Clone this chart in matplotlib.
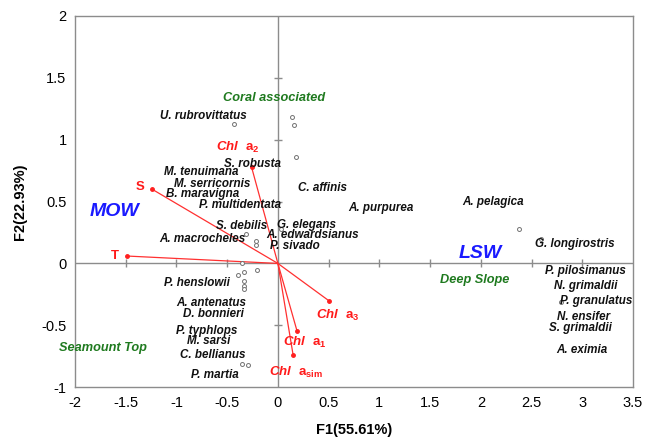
import numpy as np
import matplotlib
matplotlib.use("Agg")
import matplotlib.pyplot as plt

plt.rcParams.update({
    "font.family": ["Liberation Sans", "DejaVu Sans"],
    "mathtext.fontset": "custom",
    "mathtext.rm": "Liberation Sans:bold",
    "mathtext.it": "Liberation Sans:italic:bold",
    "mathtext.bf": "Liberation Sans:bold",
})

# PCA site/species scores (F1, F2)
pt_x = [-0.43, 0.14, 0.16, 0.18, -0.31, -0.22, -0.22, 0.03,
        -0.35, -0.21, -0.39, -0.33, -0.33, -0.33, -0.33,
        -0.35, -0.29, 2.38, 2.59, 2.79]
pt_y = [1.13, 1.18, 1.12, 0.86, 0.24, 0.18, 0.15, 0.28,
        0.00, -0.05, -0.09, -0.07, -0.14, -0.18, -0.21,
        -0.81, -0.82, 0.28, 0.20, -0.31]

# environmental vectors
vec_names = ["S", "T", "Chl a2", "Chl a3", "Chl a1", "Chl asim"]
vec_x = [-1.24, -1.49, -0.26, 0.50, 0.19, 0.15]
vec_y = [0.60, 0.06, 0.78, -0.30, -0.55, -0.74]
vec_labels = ["S", "T",
              r"$\mathit{Chl}\ \ \mathrm{a}_{\mathrm{2}}$",
              r"$\mathit{Chl}\ \ \mathrm{a}_{\mathrm{3}}$",
              r"$\mathit{Chl}\ \ \mathrm{a}_{\mathrm{1}}$",
              r"$\mathit{Chl}\ \ \mathrm{a}_{\mathrm{sim}}$"]
vec_lab_pos = [(-1.36, 0.62), (-1.61, 0.06), (-0.40, 0.94),
               (0.59, -0.42), (0.27, -0.64), (0.18, -0.88)]

species = ["U. rubrovittatus", "S. robusta", "M. tenuimana", "M. serricornis",
           "B. maravigna", "P. multidentata", "C. affinis", "A. purpurea",
           "A. pelagica", "S. debilis", "G. elegans", "A. edwardsianus",
           "A. macrocheles", "P. sivado", "G. longirostris", "P. henslowii",
           "P. pilosimanus", "N. grimaldii", "P. granulatus", "N. ensifer",
           "S. grimaldii", "A. eximia", "A. antenatus", "D. bonnieri",
           "P. typhlops", "M. sarsi", "C. bellianus", "P. martia"]
species_pos = [(-0.73, 1.19), (-0.25, 0.80), (-0.76, 0.74), (-0.65, 0.64),
               (-0.74, 0.56), (-0.37, 0.47), (0.44, 0.61), (1.02, 0.45),
               (2.12, 0.50), (-0.36, 0.30), (0.28, 0.31), (0.34, 0.23),
               (-0.74, 0.20), (0.17, 0.14), (2.93, 0.16), (-0.80, -0.16),
               (3.03, -0.06), (3.03, -0.18), (3.14, -0.30), (3.01, -0.43),
               (2.98, -0.52), (3.00, -0.70), (-0.66, -0.32), (-0.64, -0.41),
               (-0.70, -0.55), (-0.68, -0.63), (-0.64, -0.74), (-0.62, -0.90)]

habitats = ["Coral associated", "Deep Slope", "Seamount Top"]
habitat_pos = [(-0.04, 1.34), (1.94, -0.13), (-1.72, -0.68)]
water = ["MOW", "LSW"]
water_pos = [(-1.61, 0.42), (1.99, 0.08)]

fig = plt.figure(figsize=(6.46, 4.44), dpi=100)
ax = fig.add_axes([0.116, 0.128, 0.864, 0.836])
ax.set_xlim(-2, 3.5)
ax.set_ylim(-1, 2)
for s in ax.spines.values():
    s.set_color("#8c8c8c")
    s.set_linewidth(1.0)
ax.tick_params(length=0, labelsize=10.5, pad=6)
ax.set_xticks(np.arange(-2, 3.51, 0.5))
ax.set_yticks(np.arange(-1, 2.01, 0.5))
ax.set_xticklabels(["-2", "-1.5", "-1", "-0.5", "0", "0.5", "1", "1.5",
                    "2", "2.5", "3", "3.5"])
ax.set_yticklabels(["-1", "-0.5", "0", "0.5", "1", "1.5", "2"])
ax.set_xlabel("F1(55.61%)", fontsize=10.5, fontweight="bold", labelpad=10)
ax.set_ylabel("F2(22.93%)", fontsize=10.5, fontweight="bold", labelpad=10)

# zero lines with their own tick marks
ax.axhline(0, color="#8c8c8c", lw=1.0, zorder=1)
ax.axvline(0, color="#8c8c8c", lw=1.0, zorder=1)
xt = [v for v in np.arange(-1.5, 3.1, 0.5) if abs(v) > 1e-9]
yt = [v for v in np.arange(-0.5, 1.6, 0.5) if abs(v) > 1e-9]
ax.plot(xt, np.zeros(len(xt)), ls="none", marker="|", ms=6, color="#8c8c8c", mew=1.0)
ax.plot(np.zeros(len(yt)), yt, ls="none", marker="_", ms=6, color="#8c8c8c", mew=1.0)

# points
ax.scatter(pt_x, pt_y, s=8, facecolors="white", edgecolors="#707070",
           linewidths=0.7, zorder=3)

# vectors
for x, y, lab, (lx, ly) in zip(vec_x, vec_y, vec_labels, vec_lab_pos):
    ax.plot([0, x], [0, y], color="#ff3030", lw=0.9, zorder=2)
    ax.plot(x, y, "o", color="#ff2020", ms=2.5, zorder=2)
    ax.text(lx, ly, lab, color="#ff1a1a", fontsize=9.5, fontweight="bold",
            ha="center", va="center")

for name, (x, y) in zip(species, species_pos):
    ax.text(x, y, name, fontsize=8.4, fontweight="bold", style="italic",
            color="#111111", ha="center", va="center", zorder=4)

for name, (x, y) in zip(habitats, habitat_pos):
    ax.text(x, y, name, fontsize=9.2, fontweight="bold", style="italic",
            color="#1f7a1f", ha="center", va="center")

for name, (x, y) in zip(water, water_pos):
    ax.text(x, y, name, fontsize=14, fontweight="bold", style="italic",
            color="#1a1aff", ha="center", va="center")

plt.savefig("out.png", dpi=100)
